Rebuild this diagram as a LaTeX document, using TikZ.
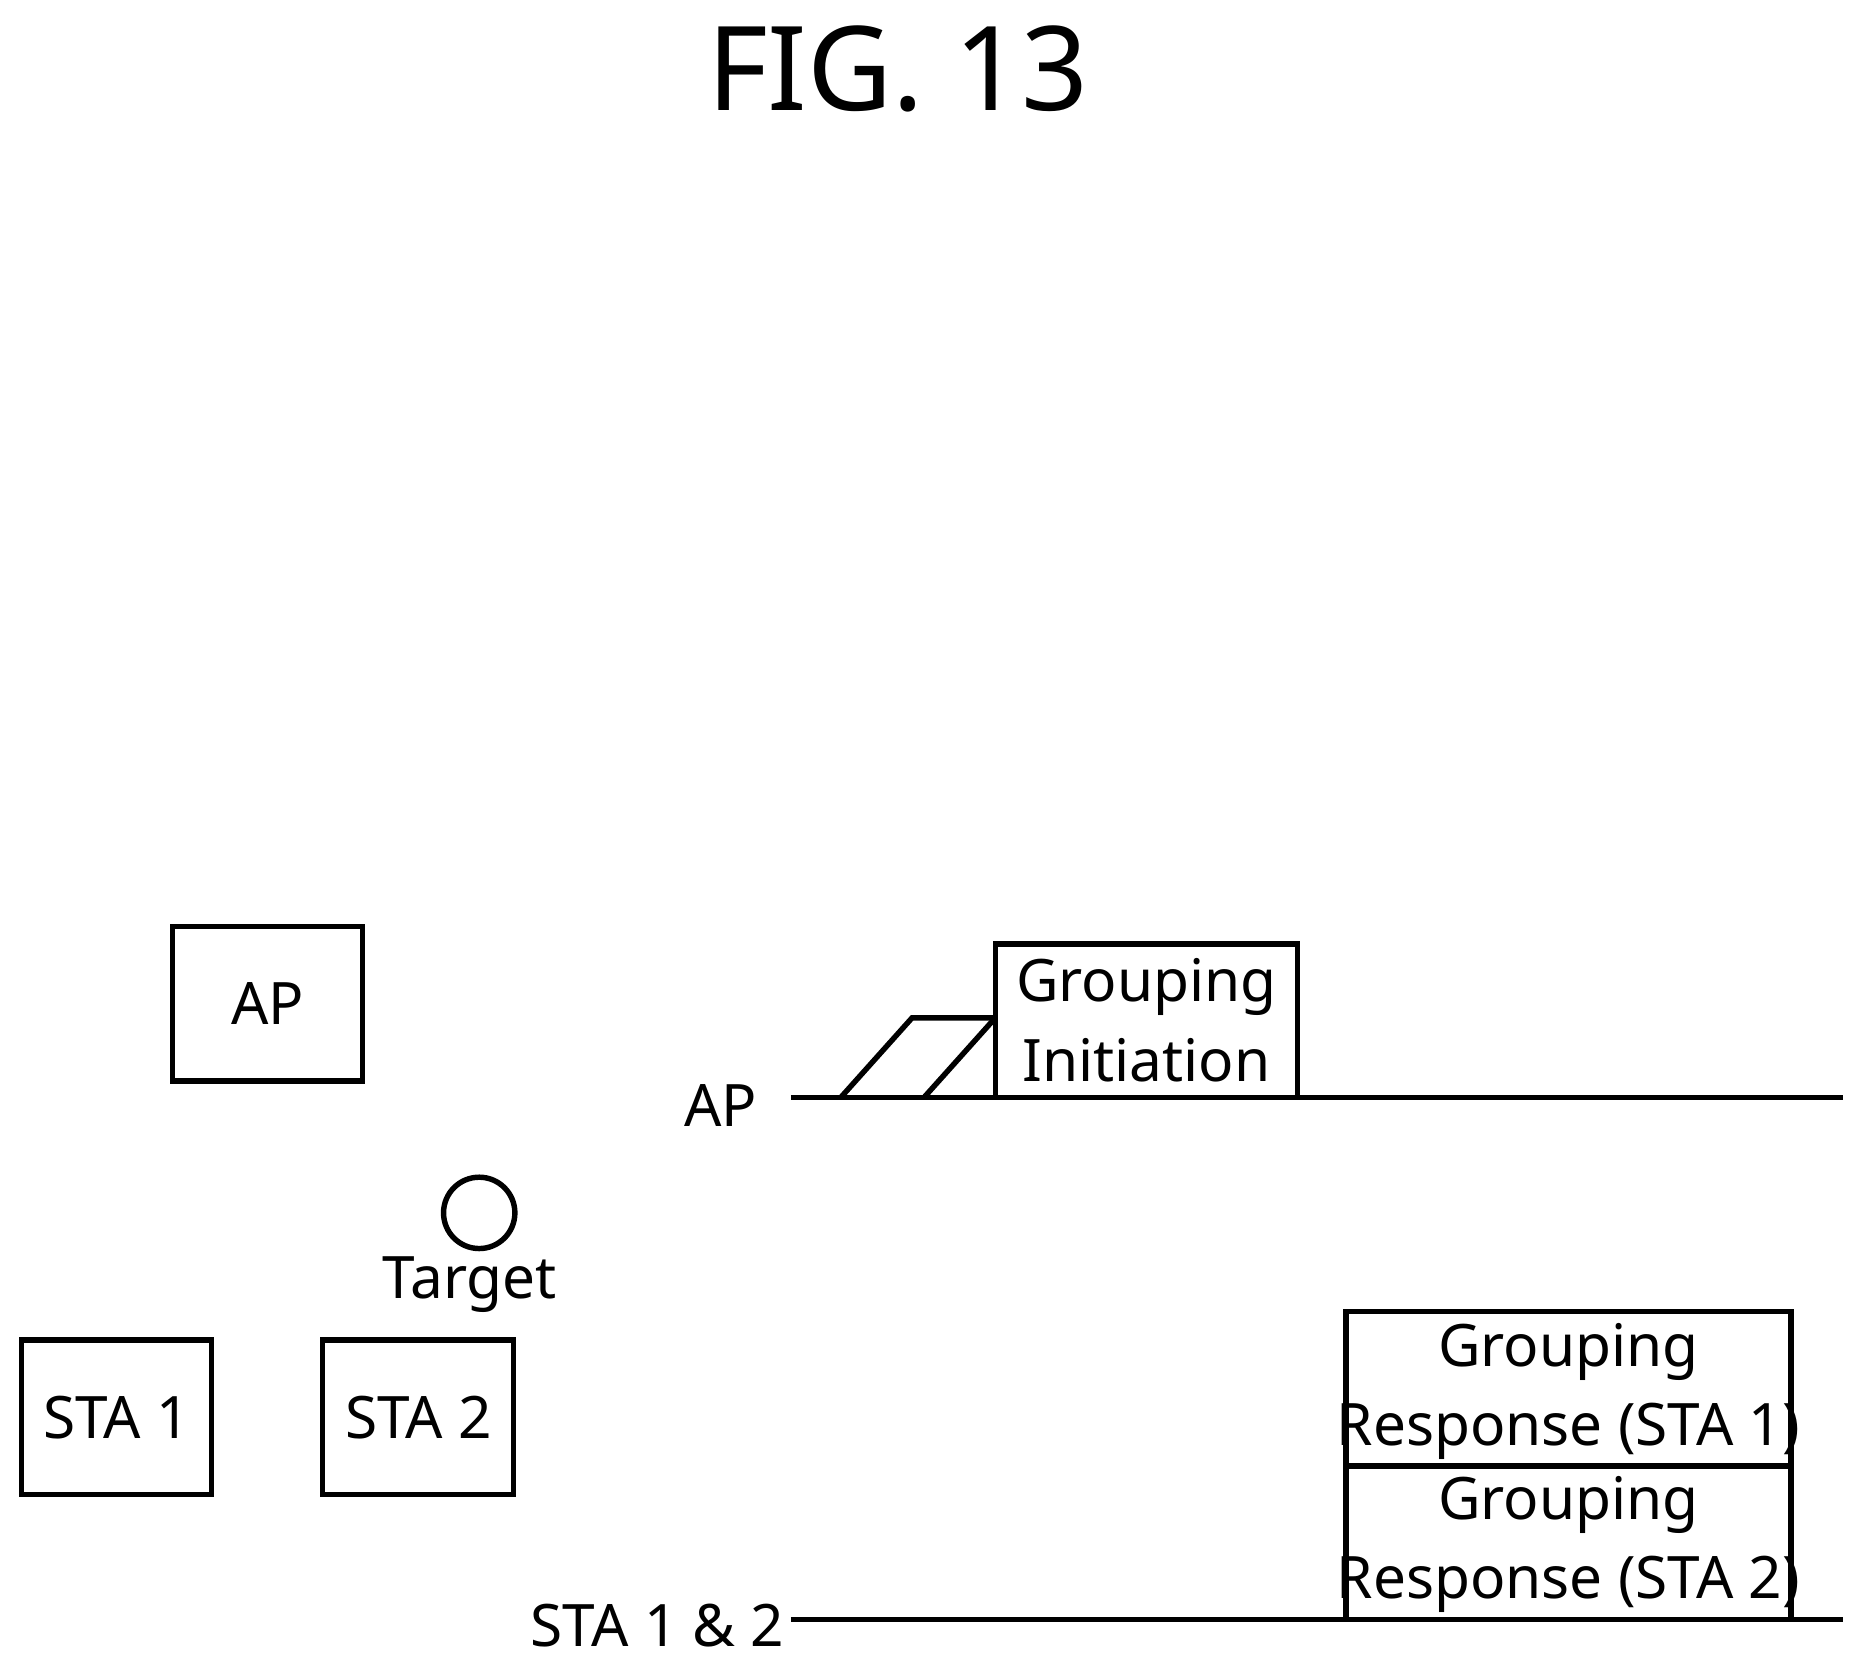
\documentclass[tikz,border=0pt]{standalone}
\usepackage{fontspec}
\setmainfont{Noto Sans}
\begin{document}
\begin{tikzpicture}[x=0.01cm,y=-0.01cm,line width=1.3pt,
  lbl/.style={font=\fontsize{14}{17}\selectfont,align=center,inner sep=0},
  box/.style={draw,line width=1.3pt}]
\useasboundingbox (0,0) rectangle (1560,1395);
\node[font=\fontsize{28}{32}\selectfont] (title) at (755,58) {FIG. 13};
\draw[box] (145,779) rectangle (305,909); \node[lbl] (ap) at (225,844) {AP};
\draw[box] (18,1127) rectangle (178,1257); \node[lbl] (s1) at (98,1192) {STA 1};
\draw[box] (271,1127) rectangle (432,1257); \node[lbl] (s2) at (352,1192) {STA 2};
\draw (403,1020) circle (30); \node[lbl] (tg) at (395,1080) {Target};
\draw (665,923) -- (1550,923); \node[lbl] (apl) at (606,930) {AP};
\draw (707,923) -- (767,856) -- (837,856); \draw (777,923) -- (837,856);
\draw[box] (837,794) rectangle (1091,923);
\node[lbl] (gi) at (964,858) {Grouping\\[2pt]Initiation};
\draw (665,1362) -- (1550,1362); \node[lbl] (stal) at (553,1367) {STA 1 \& 2};
\draw[box] (1132,1103) rectangle (1506,1233);
\draw[box] (1132,1233) rectangle (1506,1362);
\node[lbl] (r1) at (1319,1170) {Grouping\\[2pt]Response (STA 1)};
\node[lbl] (r2) at (1319,1299) {Grouping\\[2pt]Response (STA 2)};
\end{tikzpicture}
\end{document}
